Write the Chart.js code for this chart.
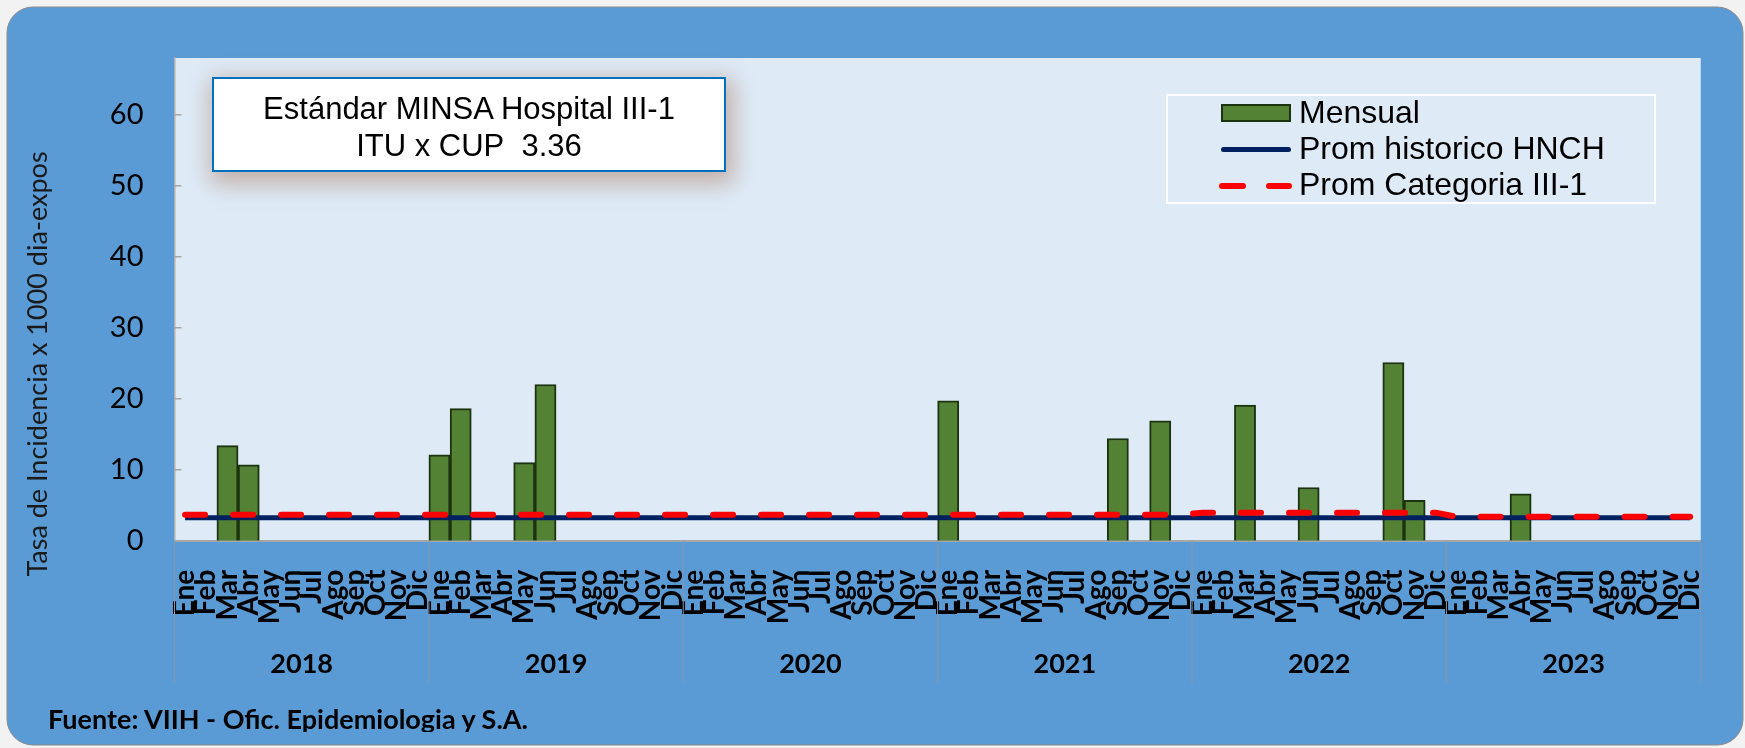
<!DOCTYPE html>
<html>
<head>
<meta charset="utf-8">
<title>Tasa de Incidencia ITU x CUP</title>
<script src="https://cdn.jsdelivr.net/npm/chart.js@4.4.0/dist/chart.umd.min.js"></script>
<style>
  html, body { margin:0; padding:0; background:#f2f2f2; }
  #wrap { position:relative; width:1745px; height:748px; overflow:hidden; }
  #myChart { position:absolute; left:0; top:0; }
  #estandar {
    position:absolute; left:212px; top:77px; width:514px; height:95px; box-sizing:border-box;
    border:2px solid #0070c0; background:#fff; text-align:center;
    font-family:"Liberation Sans", Arial, sans-serif; font-size:31px; line-height:37.4px; color:#000;
    padding-top:10.8px; box-shadow:3px 7px 22px 5px rgba(160,95,65,0.42);
  }
  #legend { position:absolute; left:1166px; top:94px; width:490px; height:110px; box-sizing:border-box; border:2px solid #fff; }
  .ltxt { position:absolute; left:1299px; font-family:"Liberation Sans", Arial, sans-serif; font-size:32px; line-height:36px; color:#000; white-space:nowrap; }
  .sym { position:absolute; box-sizing:border-box; }
  #fuente {
    position:absolute; left:48px; top:702.7px; height:29.3px; overflow:hidden;
    font-family:Lato, sans-serif; font-weight:bold; font-size:27px; line-height:32.4px; color:#000; white-space:nowrap;
  }
</style>
</head>
<body>
<div id="wrap">
  <canvas id="myChart" width="1745" height="748"></canvas>
  <div id="estandar">Estándar MINSA Hospital III-1<br>ITU x CUP&nbsp; 3.36</div>
  <div id="legend"></div>
  <div class="sym" style="left:1221px; top:104px; width:70px; height:18px; background:#548235; border:2px solid #1c3310;"></div>
  <div class="ltxt" style="top:93.6px;">Mensual</div>
  <div class="sym" style="left:1221px; top:146.5px; width:70px; height:5.5px; background:#002060; border-radius:3px;"></div>
  <div class="ltxt" style="top:130.2px;">Prom historico HNCH</div>
  <div class="sym" style="left:1219px; top:183px; width:27px; height:6px; background:#ff0000; border-radius:3px;"></div>
  <div class="sym" style="left:1266px; top:183px; width:26px; height:6px; background:#ff0000; border-radius:3px;"></div>
  <div class="ltxt" style="top:165.9px;">Prom Categoria III-1</div>
  <div id="fuente">Fuente: VIIH - Ofic. Epidemiologia y S.A.</div>
</div>
<script>
// meses y años del eje
var meses = ['Ene','Feb','Mar','Abr','May','Jun','Jul','Ago','Sep','Oct','Nov','Dic'];
var anios = ['2018','2019','2020','2021','2022','2023'];

// tasa mensual (null = sin casos)
var mensual = [
  null, null, 13.4, 10.7, null, null, null, null, null, null, null, null,   // 2018
  12.1, 18.6, null, null, 11.0, 22.0, null, null, null, null, null, null,   // 2019
  null, null, null, null, null, null, null, null, null, null, null, null,   // 2020
  19.7, null, null, null, null, null, null, null, 14.4, null, 16.9, null,   // 2021
  null, null, 19.1, null, null, 7.5, null, null, null, 25.1, 5.7, null,     // 2022
  null, null, null, 6.6, null, null, null, null, null, null, null, null     // 2023
];

var promHistorico = [
  3.22, 3.22, 3.22, 3.22, 3.22, 3.22, 3.22, 3.22, 3.22, 3.22, 3.22, 3.22,
  3.22, 3.22, 3.22, 3.22, 3.22, 3.22, 3.22, 3.22, 3.22, 3.22, 3.22, 3.22,
  3.22, 3.22, 3.22, 3.22, 3.22, 3.22, 3.22, 3.22, 3.22, 3.22, 3.22, 3.22,
  3.22, 3.22, 3.22, 3.22, 3.22, 3.22, 3.22, 3.22, 3.22, 3.22, 3.22, 3.22,
  3.22, 3.22, 3.22, 3.22, 3.22, 3.22, 3.22, 3.22, 3.22, 3.22, 3.22, 3.22,
  3.22, 3.22, 3.22, 3.22, 3.22, 3.22, 3.22, 3.22, 3.22, 3.22, 3.22, 3.22
];

var promCategoria = [
  3.66, 3.66, 3.66, 3.66, 3.66, 3.66, 3.66, 3.66, 3.66, 3.66, 3.66, 3.66,
  3.66, 3.66, 3.66, 3.66, 3.66, 3.66, 3.66, 3.66, 3.66, 3.66, 3.66, 3.66,
  3.66, 3.66, 3.66, 3.66, 3.66, 3.66, 3.66, 3.66, 3.66, 3.66, 3.66, 3.66,
  3.66, 3.66, 3.66, 3.66, 3.66, 3.66, 3.66, 3.66, 3.66, 3.66, 3.66, 3.66,
  3.95, 3.95, 3.95, 3.95, 3.95, 3.95, 3.95, 3.95, 3.95, 3.95, 3.95, 3.95,
  3.36, 3.36, 3.36, 3.36, 3.36, 3.36, 3.36, 3.36, 3.36, 3.36, 3.36, 3.36
];

var yTicks = [0, 10, 20, 30, 40, 50, 60];

var etiquetas = [];
for (var a = 0; a < anios.length; a++) {
  for (var m = 0; m < meses.length; m++) etiquetas.push(meses[m]);
}

// fondo de la tarjeta, area de trazado, años y titulo del eje y
const decoracion = {
  id: 'decoracion',
  beforeDraw(chart) {
    const ctx = chart.ctx, ca = chart.chartArea;
    ctx.save();
    ctx.fillStyle = '#f2f2f2';
    ctx.fillRect(0, 0, chart.width, chart.height);
    // tarjeta redondeada
    var x = 7, y = 7, w = 1745 - 9, h = 748 - 10, r = 26;
    ctx.beginPath();
    ctx.moveTo(x + r, y);
    ctx.arcTo(x + w, y, x + w, y + h, r);
    ctx.arcTo(x + w, y + h, x, y + h, r);
    ctx.arcTo(x, y + h, x, y, r);
    ctx.arcTo(x, y, x + w, y, r);
    ctx.closePath();
    ctx.fillStyle = '#5b9bd5';
    ctx.fill();
    ctx.strokeStyle = '#8a8a8a';
    ctx.lineWidth = 1;
    ctx.stroke();
    ctx.fillStyle = '#deebf7';
    ctx.fillRect(ca.left, ca.top, ca.right - ca.left, ca.bottom - ca.top);
    ctx.restore();
  },
  afterDraw(chart) {
    const ctx = chart.ctx, ca = chart.chartArea;
    const xs = chart.scales.x, ys = chart.scales.y;
    const cw = xs.getPixelForValue(1) - xs.getPixelForValue(0);
    ctx.save();
    // marcas del eje y hacia adentro
    ctx.strokeStyle = '#a6a6a6';
    ctx.lineWidth = 1.5;
    yTicks.forEach(function (v) {
      var py = ys.getPixelForValue(v);
      ctx.beginPath();
      ctx.moveTo(ca.left, py);
      ctx.lineTo(ca.left + 7, py);
      ctx.stroke();
    });
    // separadores de años
    ctx.strokeStyle = '#8497b0';
    ctx.lineWidth = 1;
    for (var k = 0; k <= anios.length; k++) {
      var px = k < anios.length ? xs.getPixelForValue(k * 12) - cw / 2 : xs.getPixelForValue(k * 12 - 1) + cw / 2;
      ctx.beginPath();
      ctx.moveTo(px, ca.bottom);
      ctx.lineTo(px, 683);
      ctx.stroke();
    }
    // etiquetas de años
    ctx.fillStyle = '#000';
    ctx.font = 'bold 27px Lato';
    ctx.textAlign = 'center';
    ctx.textBaseline = 'alphabetic';
    for (var k = 0; k < anios.length; k++) {
      var cx = (xs.getPixelForValue(k * 12) + xs.getPixelForValue(k * 12 + 11)) / 2;
      ctx.fillText(anios[k], cx, 673);
    }
    // titulo eje y
    ctx.translate(38, 364);
    ctx.rotate(-Math.PI / 2);
    ctx.font = '27px Lato';
    ctx.fillStyle = '#1a1a1a';
    ctx.textBaseline = 'middle';
    ctx.fillText('Tasa de Incidencia x 1000 dia-expos', 0, 0);
    ctx.restore();
  }
};

let myChart = document.getElementById('myChart').getContext('2d');
let demoChart = new Chart(myChart, {
  type: 'bar',
  data: {
    labels: etiquetas,
    datasets: [
      {
        type: 'line',
        label: 'Prom Categoria III-1',
        data: promCategoria,
        borderColor: '#ff0000',
        borderWidth: 6,
        borderDash: [20, 28],
        borderCapStyle: 'round',
        pointRadius: 0,
        fill: false,
        tension: 0,
        order: 1
      },
      {
        type: 'line',
        label: 'Prom historico HNCH',
        data: promHistorico,
        borderColor: '#002060',
        borderWidth: 5,
        pointRadius: 0,
        fill: false,
        tension: 0,
        order: 2
      },
      {
        label: 'Mensual',
        data: mensual,
        backgroundColor: '#548235',
        borderColor: '#1c3310',
        borderWidth: 2,
        barPercentage: 1,
        categoryPercentage: 1,
        order: 3
      }
    ]
  },
  options: {
    responsive: false,
    devicePixelRatio: 1,
    animation: false,
    events: [],
    layout: { padding: { left: 0, top: 58, right: 32, bottom: 0 } },
    plugins: {
      legend: { display: false },
      tooltip: { enabled: false },
      title: { display: false }
    },
    scales: {
      x: {
        grid: { display: false },
        border: { display: true, color: '#a6a6a6', width: 2 },
        ticks: {
          autoSkip: false,
          maxRotation: 90,
          minRotation: 90,
          padding: 21,
          color: '#000',
          font: { family: 'Lato', weight: 'bold', size: 28 }
        },
        afterFit: function (s) { s.height = 748 - 540.7; }
      },
      y: {
        min: 0,
        max: 68,
        grid: { display: false },
        border: { display: true, color: '#b0b0b0', width: 1.5 },
        ticks: {
          stepSize: 10,
          includeBounds: false,
          padding: 23,
          color: '#000',
          font: { family: 'Lato', size: 29 }
        },
        afterFit: function (s) { s.width = 174.5; }
      }
    }
  },
  plugins: [decoracion]
});
</script>
</body>
</html>
